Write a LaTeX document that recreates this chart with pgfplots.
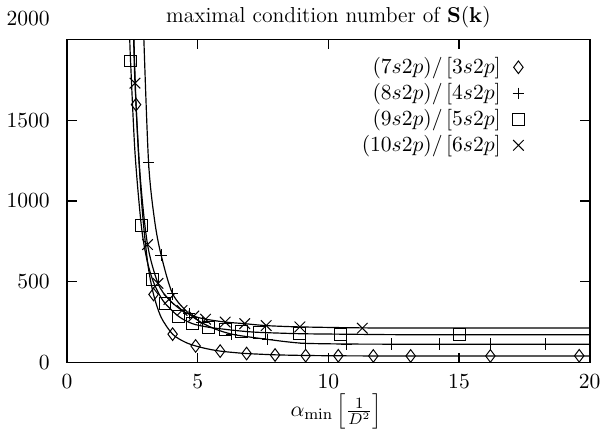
\documentclass[border=0pt]{standalone}
\usepackage{pgfplots}
\pgfplotsset{compat=1.18}
\pgfplotsset{smalllegimg/.style={legend image code/.code={\draw[##1, only marks] plot coordinates {(0.15cm,0cm)};}}}
\begin{document}
\begin{tikzpicture}[font=\fontsize{11}{13.6}\selectfont]
\begin{axis}[
  scale only axis,
  width=265.5pt, height=164pt,
  xmin=0, xmax=20, ymin=0, ymax=2000,
  xtick={0,5,10,15,20}, ytick={0,500,1000,1500},
  extra y ticks={2000},
  extra y tick style={yticklabel style={yshift=10.5pt}, major tick length=0pt},
  /pgf/number format/1000 sep={},
  tick align=inside, major tick length=5pt,
  axis line style={line width=0.9pt},
  every tick/.style={black, line width=0.6pt},
  yticklabel style={xshift=-5.3pt},
  xticklabel style={yshift=-2.75pt},
  title={maximal condition number of $\mathbf{S}(\mathbf{k})$},
  title style={yshift=-3.7pt},
  xlabel={$\alpha_{\min}\left[\frac{1}{D^2}\right]$},
  xlabel style={xshift=4pt, yshift=2pt, inner sep=1pt},
  legend plot pos=right,
  legend cell align=right,
  legend style={draw=none, fill=none, at={(rel axis cs:1,1)}, anchor=north east,
    xshift=-30pt, yshift=-5pt, row sep=-0.5pt,
    /tikz/every odd column/.append style={column sep=4pt}},
]
% fitted curves
\addplot[black, line width=0.6pt, smooth, tension=0.5, forget plot] coordinates {
(2.56,2000) (2.64,1597) (2.75,1250) (2.9,900) (3.1,600) (3.31,421) (3.6,280) (4.04,175)
(4.5,127) (4.92,102) (5.4,83) (5.86,70) (6.4,61) (6.87,55) (7.96,47) (9.13,43) (10.38,41)
(12,40) (14,40) (17,40) (20,40)};
\addplot[black, line width=0.6pt, smooth, tension=0.5, forget plot] coordinates {
(2.94,2000) (3.12,1238) (3.35,880) (3.6,665) (4.04,425) (4.67,302) (5.17,245) (5.7,205)
(6.3,175) (7.0,157) (7.66,143) (8.4,128) (9.13,118) (10.7,114) (12.4,113) (14.24,113)
(16.2,113) (18.3,113) (20,113)};
\addplot[black, line width=0.6pt, smooth, tension=0.5, forget plot] coordinates {
(2.40,2000) (2.43,1868) (2.6,1300) (2.84,850) (3.05,640) (3.27,514) (3.5,430) (3.75,366)
(4.27,285) (4.8,240) (5.42,218) (6.05,205) (6.68,194) (7.37,186) (8.88,178) (10.45,175)
(12.5,172) (15.03,171) (17.5,171) (20,171)};
\addplot[black, line width=0.6pt, smooth, tension=0.5, forget plot] coordinates {
(2.55,2000) (2.6,1730) (2.8,1150) (3.08,730) (3.48,490) (3.9,390) (4.4,322) (4.85,287)
(5.3,268) (6.05,250) (6.8,240) (7.62,228) (8.91,220) (11.3,214) (14,213) (17,213) (20,213)};
% markers
\addplot[only marks, mark=diamond, mark size=3.2pt, mark options={black, line width=0.5pt, fill=white},
  smalllegimg] coordinates {
(2.64,1597) (3.31,421) (4.04,175) (4.92,102) (5.86,70) (6.87,55) (7.96,46) (9.13,42)
(10.38,41) (11.72,40) (13.15,40) (16.2,40) (19.6,41)};
\addlegendentry{$(7s2p)/\,[3s2p]$}
\addplot[only marks, mark=+, mark size=2.9pt, mark options={black, line width=0.5pt},
  smalllegimg] coordinates {
(3.12,1238) (3.6,665) (4.04,425) (4.67,302) (5.17,245) (6.3,175) (7.66,143) (9.13,118)
(10.7,114) (12.4,113) (14.24,113) (16.2,113) (18.3,113)};
\addlegendentry{$(8s2p)/\,[4s2p]$}
\addplot[only marks, mark=square, mark size=3pt, mark options={black, line width=0.5pt},
  smalllegimg] coordinates {
(2.43,1868) (2.84,850) (3.27,514) (3.75,366) (4.27,285) (4.8,240) (5.42,218) (6.05,205)
(6.68,194) (7.37,186) (8.88,178) (10.45,175) (15.03,171)};
\addlegendentry{$(9s2p)/\,[5s2p]$}
\addplot[only marks, mark=x, mark size=3.8pt, mark options={black, line width=0.5pt},
  smalllegimg] coordinates {
(2.6,1730) (3.08,730) (3.48,490) (3.9,390) (4.4,322) (4.85,287) (5.3,268) (6.05,250)
(6.8,240) (7.62,228) (8.91,220) (11.3,212)};
\addlegendentry{$(10s2p)/\,[6s2p]$}
\end{axis}
\end{tikzpicture}
\end{document}
